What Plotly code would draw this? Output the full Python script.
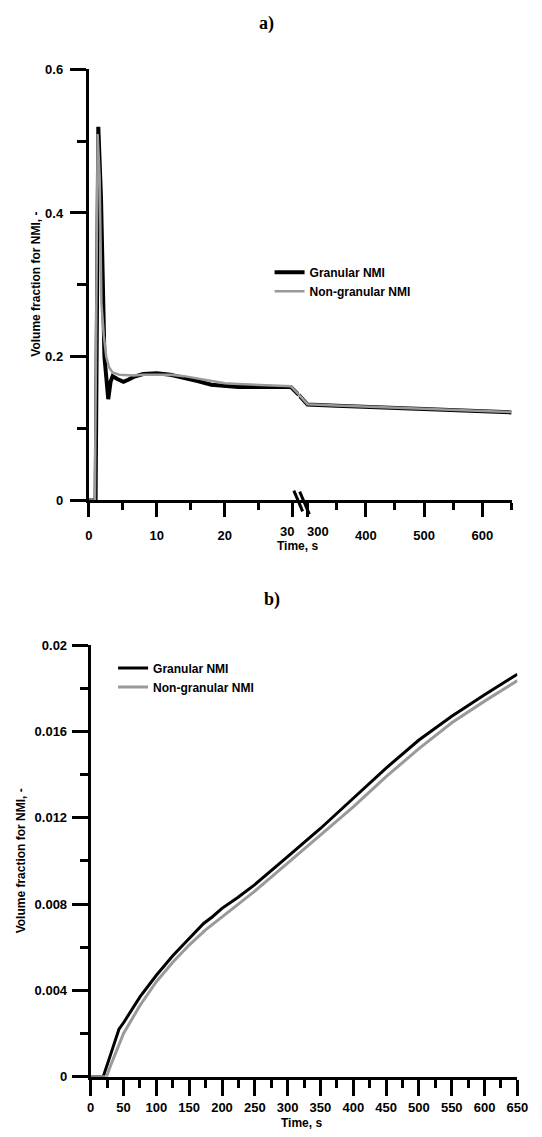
import plotly.graph_objects as go

# ---------------- Panel a) data ----------------
# segment 1 (0 - 30 s)
t_a1_gran = [0, 1.0, 1.4, 1.8, 2.3, 2.86, 3.2, 3.5, 4.2, 5.1, 5.8, 6.6, 8, 10, 12, 14, 16, 18, 20, 22, 25, 28, 29.7, 30.86]
v_a1_gran = [0, 0, 0.52, 0.42, 0.20, 0.141, 0.165, 0.173, 0.169, 0.165, 0.168, 0.172, 0.176, 0.177, 0.175, 0.171, 0.166, 0.161, 0.159, 0.158, 0.158, 0.158, 0.158, 0.147]
t_a1_non = [0, 0.9, 1.3, 1.6, 1.86, 2.2, 2.57, 3.0, 3.5, 4.5, 6.6, 8, 10, 12, 14, 16, 18, 20, 22, 25, 28, 29.7, 30.86]
v_a1_non = [0, 0, 0.51, 0.45, 0.275, 0.23, 0.20, 0.185, 0.178, 0.175, 0.174, 0.175, 0.175, 0.175, 0.173, 0.170, 0.166, 0.163, 0.162, 0.161, 0.160, 0.159, 0.1475]
# segment 2 (after axis break)
t_a2 = [285, 300, 350, 400, 450, 500, 550, 600, 650]
v_a2_gran = [0.147, 0.1335, 0.1318, 0.1302, 0.1288, 0.1275, 0.1260, 0.1245, 0.1225]
v_a2_non = [0.1475, 0.1340, 0.1323, 0.1307, 0.1293, 0.1280, 0.1265, 0.1250, 0.1230]
# tick labels of panel a ("30" and "300" are nudged apart around the break)
a1_tickvals = [0, 10, 20, 30]
a1_ticktext = ["0", "10", "20", ""]
a2_tickvals = [300, 400, 500, 600]
a2_ticktext = ["", "400", "500", "600"]
break_labels = [("30", "x", 30, -6), ("300", "x2", 300, 11)]

# ---------------- Panel b) data ----------------
t_b_gran = [0, 19, 30, 43, 50, 75, 100, 125, 150, 172, 185, 200, 224, 250, 300, 350, 400, 450, 500, 550, 600, 650]
v_b_gran = [0, 0, 0.0010, 0.0022, 0.0025, 0.0037, 0.0047, 0.0056, 0.0064, 0.0071, 0.0074, 0.0078, 0.0083, 0.0089, 0.0102, 0.0115, 0.0129, 0.0143, 0.0156, 0.0167, 0.0177, 0.01865]
t_b_non = [0, 24, 30, 50, 75, 100, 125, 150, 175, 200, 250, 300, 350, 400, 450, 500, 550, 600, 650]
v_b_non = [0, 0, 0.0005, 0.0020, 0.0033, 0.0044, 0.0053, 0.0061, 0.0068, 0.0074, 0.0086, 0.0099, 0.0112, 0.0125, 0.0139, 0.0152, 0.0164, 0.0174, 0.01835]

names = ["Granular NMI", "Non-granular NMI"]
BLACK = "#000000"
GRAY = "#9a9a9a"

# the page body has an 8 px default margin; positions below are window pixels
OFF = 8
W, H = 542 - OFF, 1137 - OFF
def px(x):
    return (x - OFF) / W
def py(y):
    return 1 - (y - OFF) / H

fig = go.Figure()

# panel a
fig.add_trace(go.Scatter(x=t_a1_gran, y=v_a1_gran, mode="lines", name=names[0],
                         line=dict(color=BLACK, width=4), xaxis="x", yaxis="y", legend="legend"))
fig.add_trace(go.Scatter(x=t_a1_non, y=v_a1_non, mode="lines", name=names[1],
                         line=dict(color=GRAY, width=2.5), xaxis="x", yaxis="y", legend="legend"))
fig.add_trace(go.Scatter(x=t_a2, y=v_a2_gran, mode="lines", name=names[0], showlegend=False,
                         line=dict(color=BLACK, width=4), xaxis="x2", yaxis="y"))
fig.add_trace(go.Scatter(x=t_a2, y=v_a2_non, mode="lines", name=names[1], showlegend=False,
                         line=dict(color=GRAY, width=2.5), xaxis="x2", yaxis="y"))
# panel b
fig.add_trace(go.Scatter(x=t_b_gran, y=v_b_gran, mode="lines", name=names[0],
                         line=dict(color=BLACK, width=3), xaxis="x3", yaxis="y3", legend="legend2"))
fig.add_trace(go.Scatter(x=t_b_non, y=v_b_non, mode="lines", name=names[1],
                         line=dict(color=GRAY, width=3), xaxis="x3", yaxis="y3", legend="legend2"))

tickfont = dict(family="Liberation Sans", size=13, color="black", weight="bold")
common = dict(showline=True, linewidth=3, linecolor="black", ticks="outside", tickwidth=3,
              tickcolor="black", showgrid=False, zeroline=False, tickfont=tickfont, fixedrange=True)

def minor(d, ln):
    return dict(dtick=d, tick0=0, ticks="outside", ticklen=ln, tickwidth=3, tickcolor="black", showgrid=False)

fig.update_layout(
    width=W, height=H,
    margin=dict(l=0, r=0, t=0, b=0),
    paper_bgcolor="white", plot_bgcolor="white",
    xaxis=dict(domain=[px(87), px(303)], range=[0, 30.86], anchor="y", tickmode="array",
               tickvals=a1_tickvals, ticktext=a1_ticktext, ticklabelstandoff=7,
               ticklen=14, minor=minor(5, 7), **common),
    xaxis2=dict(domain=[px(303), px(522)], range=[285, 650], anchor="y", tickmode="array",
                tickvals=a2_tickvals, ticktext=a2_ticktext, ticklabelstandoff=7,
                ticklen=14, minor=minor(50, 7), **common),
    yaxis=dict(domain=[py(500), py(63)], range=[0, 0.6], anchor="x", tick0=0, dtick=0.2,
               ticklen=16, ticklabelstandoff=4, minor=minor(0.1, 9), **common),
    xaxis3=dict(domain=[px(89), px(528)], range=[0, 650], anchor="y3", tick0=0, dtick=50,
                ticklen=16, ticklabelstandoff=1, minor=minor(25, 8), **common),
    yaxis3=dict(domain=[py(1084), py(646.5)], range=[0, 0.02], anchor="x3", tick0=0, dtick=0.004,
                ticklen=16, ticklabelstandoff=2, minor=minor(0.002, 8), **common),
    legend=dict(x=px(273), y=py(254), xanchor="left", yanchor="top", bgcolor="rgba(0,0,0,0)",
                font=dict(family="Liberation Sans", size=12, color="black", weight="bold"),
                tracegroupgap=0),
    legend2=dict(x=px(112), y=py(655), xanchor="left", yanchor="top", bgcolor="rgba(0,0,0,0)",
                 font=dict(family="Liberation Sans", size=12, color="black", weight="bold"),
                 tracegroupgap=0),
)

# "30" / "300" labels beside the axis break, placed with the axes' own scales
for text, xr, xv, shift in break_labels:
    fig.add_annotation(text=text, x=xv, xref=xr, y=py(531), yref="paper", xshift=shift,
                       showarrow=False, font=tickfont, xanchor="center", yanchor="middle")

ann_font = dict(family="Liberation Sans", size=12, color="black", weight="bold")
title_font = dict(family="Liberation Serif", size=18, color="black", weight="bold")
fig.add_annotation(text="a)", x=px(270), y=py(17), xref="paper", yref="paper",
                   showarrow=False, font=title_font, xanchor="center", yanchor="middle")
fig.add_annotation(text="b)", x=px(276), y=py(600), xref="paper", yref="paper",
                   showarrow=False, font=title_font, xanchor="center", yanchor="middle")
fig.add_annotation(text="Volume fraction for NMI, -", textangle=-90, x=px(33), y=py(281),
                   xref="paper", yref="paper", showarrow=False, font=ann_font,
                   xanchor="center", yanchor="middle")
fig.add_annotation(text="Volume fraction for NMI, -", textangle=-90, x=px(17), y=py(865),
                   xref="paper", yref="paper", showarrow=False, font=ann_font,
                   xanchor="center", yanchor="middle")
fig.add_annotation(text="Time, s", x=px(302), y=py(546), xref="paper", yref="paper",
                   showarrow=False, font=ann_font, xanchor="center", yanchor="middle")
fig.add_annotation(text="Time, s", x=px(306), y=py(1131), xref="paper", yref="paper",
                   showarrow=False, font=ann_font, xanchor="center", yanchor="middle",
                   borderpad=0)

# axis-break marks
for (x0, y0, x1, y1) in [(298, 490, 307, 511), (304, 491, 314, 514)]:
    fig.add_shape(type="line", xref="paper", yref="paper", x0=px(x0), y0=py(y0), x1=px(x1), y1=py(y1),
                  line=dict(color="black", width=3))

fig.write_html("out.html")
